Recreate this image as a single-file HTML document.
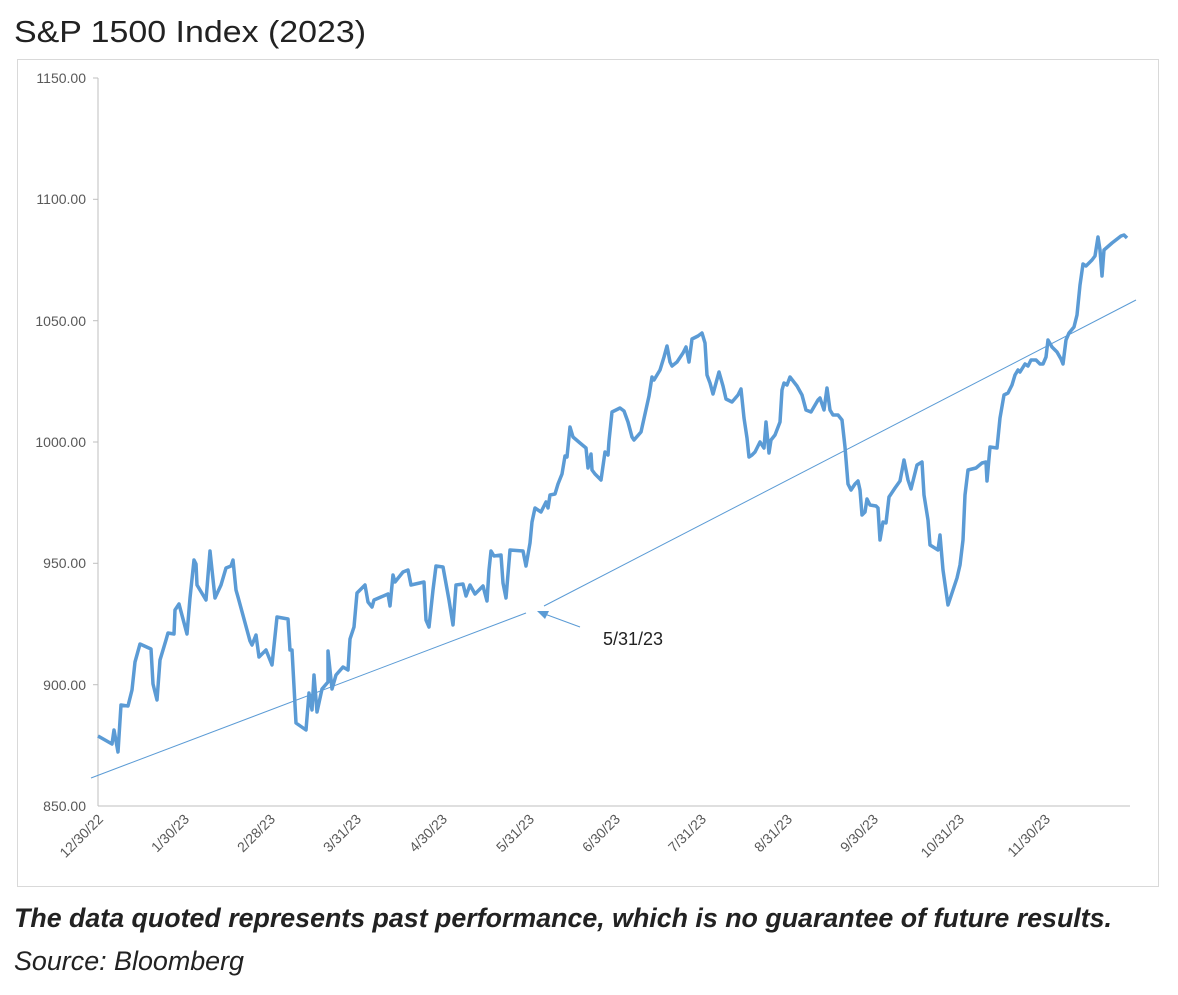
<!DOCTYPE html><html><head><meta charset="utf-8"><style>
body{margin:0;background:#fff;width:1178px;height:990px;overflow:hidden;font-family:"Liberation Sans",sans-serif}
</style></head><body>
<svg width="1178" height="990" xmlns="http://www.w3.org/2000/svg" font-family="Liberation Sans, sans-serif">
<text x="14" y="42" font-size="31" fill="#222" textLength="352" lengthAdjust="spacingAndGlyphs">S&amp;P 1500 Index (2023)</text>
<rect x="17.5" y="59.5" width="1141" height="827" fill="none" stroke="#d9d9d9"/>
<g stroke="#bfbfbf" fill="none">
<line x1="98" y1="78" x2="98" y2="806"/><line x1="98" y1="806" x2="1130" y2="806"/>
<line x1="93" y1="78" x2="98" y2="78"/><line x1="93" y1="199.3" x2="98" y2="199.3"/><line x1="93" y1="320.7" x2="98" y2="320.7"/><line x1="93" y1="442" x2="98" y2="442"/><line x1="93" y1="563.3" x2="98" y2="563.3"/><line x1="93" y1="684.7" x2="98" y2="684.7"/>
</g>
<g font-size="14" fill="#595959" text-anchor="end">
<text x="86" y="83">1150.00</text><text x="86" y="204">1100.00</text><text x="86" y="326">1050.00</text><text x="86" y="447">1000.00</text><text x="86" y="568">950.00</text><text x="86" y="690">900.00</text><text x="86" y="811">850.00</text>
</g>
<g font-size="14" fill="#595959" text-anchor="end">
<text transform="translate(104,820) rotate(-45)">12/30/22</text>
<text transform="translate(190,820) rotate(-45)">1/30/23</text>
<text transform="translate(276,820) rotate(-45)">2/28/23</text>
<text transform="translate(362,820) rotate(-45)">3/31/23</text>
<text transform="translate(448,820) rotate(-45)">4/30/23</text>
<text transform="translate(535,820) rotate(-45)">5/31/23</text>
<text transform="translate(621,820) rotate(-45)">6/30/23</text>
<text transform="translate(707,820) rotate(-45)">7/31/23</text>
<text transform="translate(793,820) rotate(-45)">8/31/23</text>
<text transform="translate(879,820) rotate(-45)">9/30/23</text>
<text transform="translate(965,820) rotate(-45)">10/31/23</text>
<text transform="translate(1051,820) rotate(-45)">11/30/23</text>
</g>
<g stroke="#5b9bd5" stroke-width="1" fill="none">
<line x1="91" y1="778" x2="526" y2="613"/>
<line x1="544" y1="606" x2="1136" y2="300"/>
<line x1="542" y1="613" x2="580" y2="627"/>
</g>
<polygon points="537,611 549,611 545,619" fill="#5b9bd5"/>
<text x="603" y="645" font-size="18" fill="#222">5/31/23</text>
<polyline fill="none" stroke="#5b9bd5" stroke-width="3.5" stroke-linejoin="round" points="98,736 112,744 114,730 118,752 121,705 128,706 132,690 135,662 140,644 151,649 153,684 157,700 160,660 166,640 168,633 174,634 175,610 179,604 187,634 190,598 194,560 196,564 197,585 206,600 210,551 215,598 221,585 226,568 231,566 233,560 236,590 238,597 250,641 252,645 256,635 259,657 266,650 272,665 277,617 288,619 290,650 292,650 296,723 306,730 309,693 312,710 314,675 317,712 322,689 328,682 328,651 332,689 336,675 343,667 348,670 350,639 354,627 357,593 365,585 368,602 372,607 374,600 388,594 390,606 393,575 395,582 403,572 408,570 411,585 424,582 426,620 429,627 433,590 436,566 443,567 449,600 453,625 456,585 463,584 466,596 470,585 475,594 483,586 487,601 489,570 491,551 494,556 501,555 503,583 506,598 510,550 523,551 526,566 530,543 532,522 535,508 541,512 546,502 548,508 550,495 555,494 558,484 562,474 565,456 567,457 570,427 573,437 580,443 586,448 588,468 591,454 592,470 595,474 601,480 605,452 608,455 609,441 612,412 620,408 624,411 628,422 632,437 634,440 641,432 645,414 649,396 652,377 654,380 660,370 664,357 667,346 670,362 672,366 677,362 683,353 686,347 689,362 692,339 698,336 702,333 705,343 707,375 710,383 713,394 719,372 723,386 726,399 732,402 738,395 741,389 744,418 747,438 749,457 752,455 755,452 760,442 764,448 766,422 769,453 771,440 775,435 780,422 782,390 784,383 787,385 790,377 797,386 802,395 806,410 811,412 818,400 820,398 824,410 827,388 830,410 833,415 838,415 842,420 845,447 848,484 851,490 855,484 858,481 860,490 862,515 865,512 867,499 870,505 876,506 878,508 880,540 883,522 886,523 889,497 895,488 900,481 904,460 908,480 911,489 917,465 922,462 924,495 928,520 930,545 938,550 940,535 943,570 948,605 953,590 957,578 960,565 963,540 965,495 968,470 976,468 982,463 986,462 987,481 990,447 997,448 1000,418 1004,395 1008,393 1012,385 1015,375 1018,370 1020,372 1025,364 1028,366 1031,360 1036,360 1040,364 1043,364 1046,357 1048,340 1052,347 1057,352 1061,359 1063,364 1066,340 1069,333 1074,327 1077,315 1080,285 1083,264 1086,266 1092,260 1095,256 1098,237 1100,250 1102,276 1104,250 1112,243 1121,236 1124,235 1127,238"/>
<text x="14" y="927" font-size="27" font-weight="bold" font-style="italic" fill="#222" textLength="1098" lengthAdjust="spacingAndGlyphs">The data quoted represents past performance, which is no guarantee of future results.</text>
<text x="14" y="970" font-size="27" font-style="italic" fill="#222" textLength="230" lengthAdjust="spacingAndGlyphs">Source: Bloomberg</text>
</svg>
</body></html>
